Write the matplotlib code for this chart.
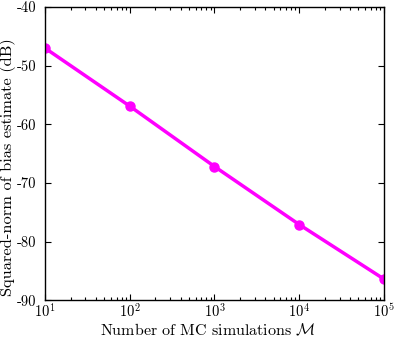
import matplotlib
matplotlib.use("Agg")
import matplotlib.pyplot as plt

plt.rcParams['font.family'] = 'serif'
plt.rcParams['font.serif'] = ['cmr10']
plt.rcParams['mathtext.fontset'] = 'cm'
plt.rcParams['axes.unicode_minus'] = False
plt.rcParams['axes.formatter.use_mathtext'] = True

# данные
num_sims = [1e1, 1e2, 1e3, 1e4, 1e5]
bias_db = [-47.0, -56.9, -67.2, -77.1, -86.4]
y_ticks = [-90, -80, -70, -60, -50, -40]

fig = plt.figure(figsize=(3.95, 3.38), dpi=100)
ax = fig.add_axes([0.114, 0.112, 0.858, 0.867])
ax.plot(num_sims, bias_db, color='#ff00ff', lw=2.5, marker='o', ms=6.5)
ax.set_xscale('log')
ax.set_xlim(1e1, 1e5)
ax.set_ylim(-90, -40)
ax.set_yticks(y_ticks)
ax.set_yticklabels([str(t) for t in y_ticks])
ax.set_xlabel(r'Number of MC simulations $\mathcal{M}$', fontsize=11.5)
ax.set_ylabel('Squared-norm of bias estimate (dB)', fontsize=11.8)
ax.xaxis.set_label_coords(0.48, -0.077)
ax.yaxis.set_label_coords(-0.085, 0.455)
ax.tick_params(which='both', direction='in', top=True, right=True, labelsize=10.5, width=0.8)
ax.tick_params(which='major', length=4)
ax.tick_params(which='minor', length=2)
ax.tick_params(axis='y', pad=6)
ax.tick_params(axis='x', pad=2)
for s in ax.spines.values():
    s.set_linewidth(1.0)
fig.savefig('out.png', dpi=100)
